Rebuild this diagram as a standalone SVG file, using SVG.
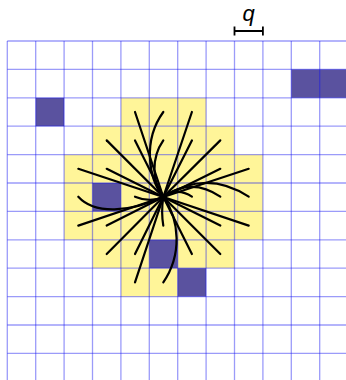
<svg xmlns="http://www.w3.org/2000/svg" width="346" height="380" viewBox="0 0 346 380">
<style>
.y{fill:#fff599}
.d{fill:#5a529f}
.g{stroke:#1010f0;stroke-opacity:0.42;stroke-width:1.3;fill:none}
.s{stroke:#000;stroke-width:2.2;fill:none;stroke-linecap:round}
.dim{stroke:#000;stroke-width:1.8;fill:none}
</style>
<rect width="346" height="380" fill="#fff"/>
<g id="yellow" class="y">
<rect x="121" y="97.8" width="85.2" height="28.4"/>
<rect x="92.5" y="126.2" width="142" height="28.4"/>
<rect x="64.1" y="154.6" width="198.8" height="85.2"/>
<rect x="92.5" y="239.8" width="142" height="28.4"/>
<rect x="121" y="268.2" width="56.8" height="28.4"/>
</g>
<g id="dark" class="d">
<rect x="35.7" y="97.8" width="28.4" height="28.4"/>
<rect x="291.3" y="69.4" width="56.8" height="28.4"/>
<rect x="92.5" y="183" width="28.4" height="28.4"/>
<rect x="149.3" y="239.8" width="28.4" height="28.4"/>
<rect x="177.7" y="268.2" width="28.4" height="28.4"/>
</g>
<g id="grid" class="g">
<path d="M7.3,41V380M35.7,41V380M64.1,41V380M92.5,41V380M120.9,41V380M149.3,41V380M177.7,41V380M206.1,41V380M234.5,41V380M262.9,41V380M291.3,41V380M319.7,41V380"/>
<path d="M7.3,41H346M7.3,69.4H346M7.3,97.8H346M7.3,126.2H346M7.3,154.6H346M7.3,183H346M7.3,211.4H346M7.3,239.8H346M7.3,268.2H346M7.3,296.6H346M7.3,325H346M7.3,353.4H346"/>
</g>
<g id="connectors" class="s">
<path d="M163.3,197L135,112"/>
<path d="M163.3,197L191.9,112"/>
<path d="M163.3,197C148,178 143,140 163.3,112"/>
<path d="M163.3,197C152,182 151,158 163.3,140.4"/>
<path d="M163.3,197L106.7,140.4"/>
<path d="M163.3,197L135,140.4"/>
<path d="M163.3,197L191.9,140.4"/>
<path d="M163.3,197L220.3,140.4"/>
<path d="M163.3,197L78.3,168.8"/>
<path d="M163.3,197L106.7,168.8"/>
<path d="M163.3,197L220.3,168.8"/>
<path d="M163.3,197L248.7,168.8"/>
<path d="M163.3,197C130,212 95,215 78.3,196.7"/>
<path d="M163.3,197Q150,203 135,196.7"/>
<path d="M163.3,197Q177.5,187 191.9,196.7"/>
<path d="M163.3,197Q191.5,177 220.3,196.7"/>
<path d="M163.3,197Q206,169 248.7,196.7"/>
<path d="M163.3,197L78.3,225.6"/>
<path d="M163.3,197L106.7,225.6"/>
<path d="M163.3,197L220.3,225.6"/>
<path d="M163.3,197L248.7,225.6"/>
<path d="M163.3,197Q161,212 163.3,225.6"/>
<path d="M163.3,197L106.7,254"/>
<path d="M163.3,197L135,254"/>
<path d="M163.3,197L191.9,254"/>
<path d="M163.3,197L220.3,254"/>
<path d="M163.3,197L135,282.4"/>
<path d="M163.3,197C180,220 182,255 163.3,282.4"/>
</g>
<g id="dimension">
<path class="dim" d="M234.5,31H262.9M234.5,26.5V35.5M262.9,26.5V35.5"/>
<text x="248.7" y="21" font-family="Liberation Sans, Arial, sans-serif" font-style="italic" font-size="22" text-anchor="middle" fill="#000">q</text>
</g>
</svg>
